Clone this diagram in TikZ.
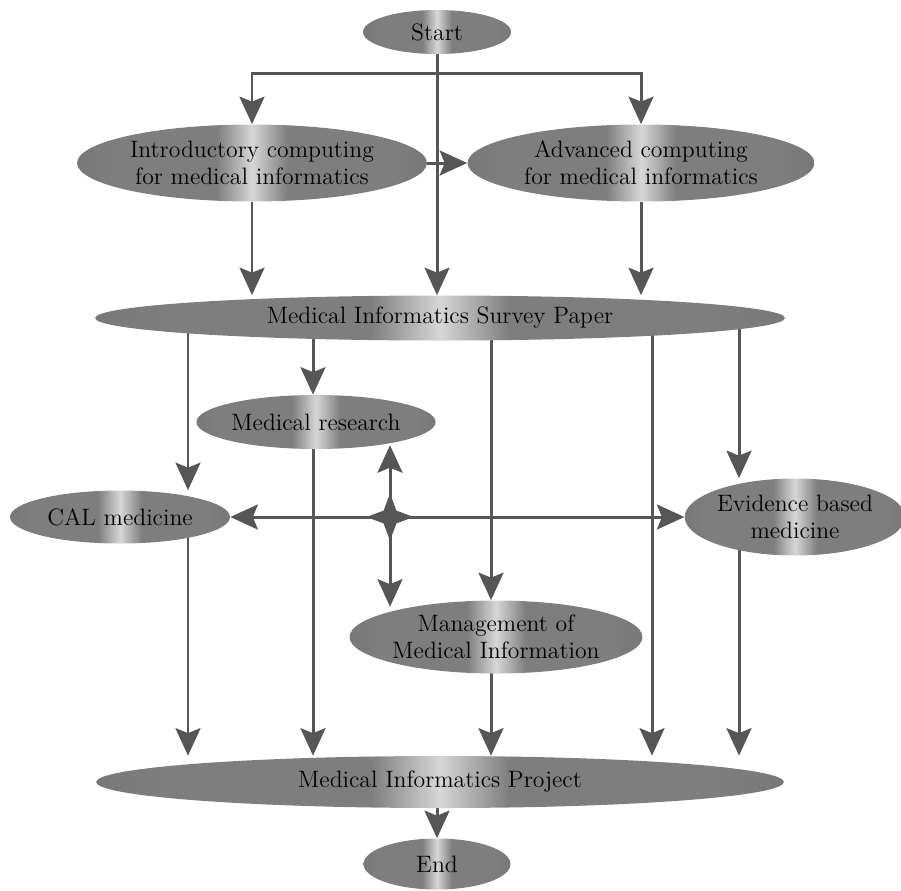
\documentclass[tikz,border=0pt]{standalone}
\usepackage{fontspec}
\usetikzlibrary{arrows.meta,shapes.geometric,backgrounds}
\definecolor{BlobDark}{RGB}{92,92,92}
\definecolor{BlobMid}{RGB}{126,126,126}
\definecolor{BlobLight}{RGB}{215,215,215}
\definecolor{LineGray}{RGB}{86,86,86}
\pgfdeclarehorizontalshading{streak}{100bp}{color(0bp)=(BlobDark); color(30bp)=(BlobMid); color(45bp)=(BlobMid); color(50bp)=(BlobLight); color(55bp)=(BlobMid); color(70bp)=(BlobMid); color(100bp)=(BlobDark)}

\begin{document}
\begin{tikzpicture}[x=0.02cm, y=-0.02cm,
            blob/.style={ellipse, shading=streak, inner sep=0pt, align=center, font=\fontsize{13.5}{15.5}\selectfont},
            hubstar/.style={star, star points=4, star point ratio=2.6, minimum size=0.9cm, inner sep=0pt, draw=LineGray, fill=LineGray},
            arr/.style={-{Stealth[length=0.55cm, width=0.5cm, inset=0.1cm]}, line width=1.7pt, draw=LineGray}
        ]
            \useasboundingbox (0,0) rectangle (901,890);
            \node[blob, minimum width=2.96cm, minimum height=0.88cm] (start)    at (437,32)  {Start};
            \node[blob, minimum width=7.00cm, minimum height=1.54cm] (intro)    at (252,163) {Introductory computing\\for medical informatics};
            \node[blob, minimum width=6.94cm, minimum height=1.54cm] (adv)      at (641,163) {Advanced computing\\for medical informatics};
            \node[blob, minimum width=13.8cm, minimum height=0.90cm] (survey)   at (440,318) {Medical Informatics Survey Paper};
            \node[blob, minimum width=4.36cm, minimum height=1.08cm] (research) at (316,422) {Medical research};
            \node[blob, minimum width=4.40cm, minimum height=1.06cm] (cal)      at (120,517) {CAL medicine};
            \node[blob, minimum width=4.20cm, minimum height=1.54cm] (evid)     at (795,517) {Evidence based\\medicine};
            \node[blob, minimum width=5.76cm, minimum height=1.46cm] (mgmt)     at (496,637) {Management of\\Medical Information};
            \node[blob, minimum width=13.76cm, minimum height=1.04cm] (project) at (440,782) {Medical Informatics Project};
            \node[blob, minimum width=2.94cm, minimum height=1.02cm] (end)      at (437,864) {End};
            % columns of the vertical links
            \coordinate (hub) at (390,517);
            \coordinate (split) at (437,73);
            \coordinate (colA) at (188,0);
            \coordinate (colB) at (313,0);
            \coordinate (colD) at (491,0);
            \coordinate (colE) at (652,0);
            \coordinate (colF) at (739,0);
            \begin{scope}[on background layer]
            \draw[arr] (start) -- (start |- survey.north);
            \draw[arr] (split) -| (intro.north);
            \draw[arr] (split) -| (adv.north);
            \draw[arr] (intro) -- (adv);
            \draw[arr] (intro) -- (intro |- survey.north);
            \draw[arr] (adv) -- (adv |- survey.north);
            \draw[arr] (colA |- survey) -- (colA |- cal.north);
            \draw[arr] (colB |- survey) -- (colB |- research.north);
            \draw[arr] (colD |- survey) -- (colD |- mgmt.north);
            \draw[arr] (colE |- survey) -- (colE |- project.north);
            \draw[arr] (colF |- survey) -- (colF |- evid.north);
            \draw[arr] (hub) -- (cal);
            \draw[arr] (hub) -- (evid);
            \draw[arr] (hub) -- (hub |- research.-20);
            \draw[arr] (hub) -- (hub |- mgmt.160);
            \draw[arr] (colA |- cal) -- (colA |- project.north);
            \draw[arr] (colB |- research) -- (colB |- project.north);
            \draw[arr] (colD |- mgmt) -- (colD |- project.north);
            \draw[arr] (colF |- evid) -- (colF |- project.north);
            \draw[arr] (end |- project) -- (end);
            \end{scope}
            \node[hubstar] at (hub) {};
        \end{tikzpicture}
\end{document}
